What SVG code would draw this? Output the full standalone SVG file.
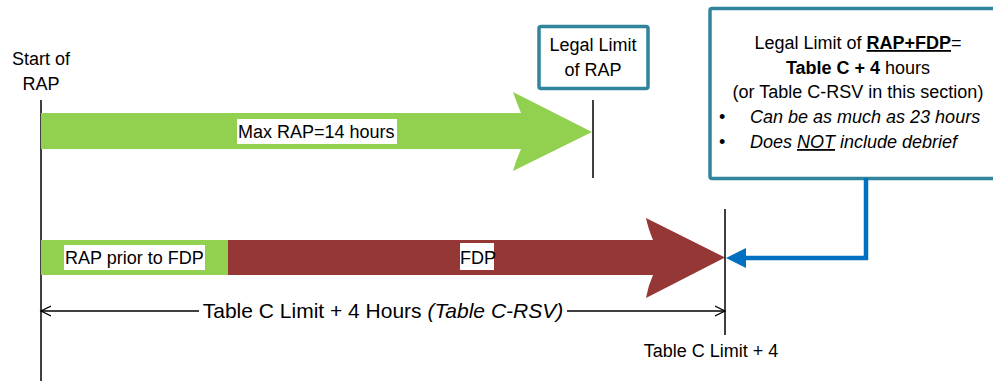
<svg xmlns="http://www.w3.org/2000/svg" width="993" height="381" viewBox="0 0 993 381">
  <defs>
    <style>
      text { font-family: "Liberation Sans", Arial, sans-serif; fill: #000; }
      .lbl { font-size: 18px; }
      .mid { text-anchor: middle; }
      .box { fill: #fff; stroke: #31849B; stroke-width: 3.5; }
      .vline { stroke: #000; stroke-width: 1.5; fill: none; }
      .bg { fill: #fff; }
    </style>
    <marker id="openArrow" markerWidth="12" markerHeight="12" refX="10" refY="6" orient="auto-start-reverse" markerUnits="userSpaceOnUse">
      <path d="M0,1 L10,6 L0,11" fill="none" stroke="#000" stroke-width="1.3"/>
    </marker>
    <marker id="blueArrow" markerWidth="20" markerHeight="20" refX="18" refY="10" orient="auto" markerUnits="userSpaceOnUse">
      <path d="M0,0 L19,10 L0,20 Z" fill="#0070C0"/>
    </marker>
  </defs>

  <rect width="993" height="381" fill="#fff"/>

  <g id="start-of-rap">
    <line class="vline" x1="41" y1="100" x2="41" y2="381" stroke="#333"/>
    <text class="lbl mid" x="41" y="65">Start of</text>
    <text class="lbl mid" x="41" y="90">RAP</text>
  </g>

  <g id="max-rap-arrow">
    <path d="M41,113 L521,113 Q516,101 513,92 L592,132 L513,171 Q516,160 521,149 L41,149 Z" fill="#92D050"/>
    <rect class="bg" x="237" y="119" width="160" height="25"/>
    <text class="lbl" x="238" y="138">Max RAP=14 hours</text>
  </g>

  <g id="legal-limit-rap">
    <line class="vline" x1="593" y1="100" x2="593" y2="178"/>
    <rect class="box" x="539" y="26.5" width="109" height="62" rx="2"/>
    <text class="lbl mid" x="593" y="51">Legal Limit</text>
    <text class="lbl mid" x="593" y="76">of RAP</text>
  </g>

  <g id="legal-limit-rap-fdp">
    <rect class="box" x="710" y="8.5" width="300" height="170" rx="2"/>
    <text class="lbl mid" x="858" y="49">Legal Limit of <tspan font-weight="bold" text-decoration="underline">RAP+FDP</tspan>=</text>
    <text class="lbl mid" x="858" y="74"><tspan font-weight="bold">Table C + 4</tspan> hours</text>
    <text class="lbl mid" x="858" y="98" font-size="19">(or Table C-RSV in this section)</text>
    <text class="lbl" x="719" y="123">•</text>
    <text class="lbl" x="750" y="123" font-style="italic">Can be as much as 23 hours</text>
    <text class="lbl" x="719" y="148">•</text>
    <text class="lbl" x="750" y="148" font-style="italic">Does <tspan text-decoration="underline">NOT</tspan> include debrief</text>
  </g>

  <g id="rap-fdp-arrow">
    <rect x="41" y="240" width="188" height="35" fill="#92D050"/>
    <path d="M228,240 L653,240 Q648,228 646,218 L725,257.5 L646,298 Q648,286 653,275 L228,275 Z" fill="#953735"/>
    <rect class="bg" x="64" y="245" width="141" height="25"/>
    <text class="lbl" x="65" y="264">RAP prior to FDP</text>
    <rect class="bg" x="460" y="243" width="34" height="27"/>
    <text class="lbl" x="460" y="264">FDP</text>
  </g>

  <g id="table-c-limit">
    <line class="vline" x1="725" y1="209" x2="725" y2="335"/>
    <text class="lbl mid" x="711" y="357">Table C Limit + 4</text>
  </g>

  <g id="connectors">
    <line x1="41" y1="311" x2="199" y2="311" stroke="#000" stroke-width="1.3" marker-start="url(#openArrow)"/>
    <line x1="567" y1="311" x2="725" y2="311" stroke="#000" stroke-width="1.3" marker-end="url(#openArrow)"/>
    <polyline points="866,178 866,258 745,258" fill="none" stroke="#0070C0" stroke-width="4.5" stroke-linejoin="miter"/>
    <path d="M726,258 L746,248 L746,268 Z" fill="#0070C0"/>
  </g>

  <g id="dimension-label">
    <text x="383" y="318" font-size="21" class="mid">Table C Limit + 4 Hours <tspan font-style="italic">(Table C-RSV)</tspan></text>
  </g>
</svg>
